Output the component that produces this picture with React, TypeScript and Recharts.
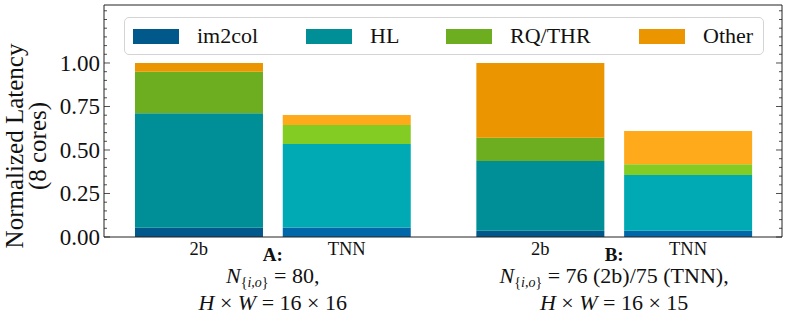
import React from 'react';
import { BarChart, Bar, XAxis, YAxis, Cell, Legend } from 'recharts';

// ---- data ----
const categories = ['2b', 'TNN', '2b', 'TNN'];
const positions = [0, 1, 2.31, 3.31];
const im2col = [0.053, 0.055, 0.036, 0.036];
const hl = [0.658, 0.479, 0.401, 0.32];
const rqthr = [0.239, 0.11, 0.134, 0.062];
const other = [0.05, 0.057, 0.429, 0.191];

const seriesKeys = ['im2col', 'hl', 'rqthr', 'other'];
const seriesNames = ['im2col', 'HL', 'RQ/THR', 'Other'];
const colors2b = ['#00588b', '#008f97', '#6cae1f', '#eb9600'];
const colorsTNN = ['#0068a8', '#00aab5', '#83cc24', '#ffaa1b'];

const groupPositions = [0.5, 2.81];
const groupTitles = ['A:', 'B:'];
const groupN = ['80,', '76 (2b)/75 (TNN),'];
const groupHW = ['16 × 16', '16 × 15'];

const yMajorTicks = [0, 0.25, 0.5, 0.75, 1.0];
const yAllTicks = [
  0, 0.05, 0.1, 0.15, 0.2, 0.25, 0.3, 0.35, 0.4, 0.45, 0.5, 0.55, 0.6, 0.65,
  0.7, 0.75, 0.8, 0.85, 0.9, 0.95, 1.0, 1.05, 1.1, 1.15, 1.2, 1.25, 1.3,
];
const yDomain = [0, 1.3333];
const xDomain = [-0.642, 3.946];

const data = categories.map((c, i) => ({
  cat: c,
  pos: positions[i],
  im2col: im2col[i],
  hl: hl[i],
  rqthr: rqthr[i],
  other: other[i],
}));

const FONT = 'Liberation Serif';
const Y_MARGIN = 4;

const isClose = (a: number, b: number) => Math.abs(a - b) < 1e-6;

const LeftTick = (props: any) => {
  const { x, y, payload } = props;
  const v = payload.value as number;
  const major = yMajorTicks.some((m) => isClose(m, v));
  const ax = x + Y_MARGIN;
  return (
    <g>
      <line x1={ax} x2={ax + (major ? 6 : 3)} y1={y} y2={y} stroke="#222" strokeWidth={0.8} />
      {major && (
        <text x={x} y={y} dy={8} textAnchor="end" style={{ fontFamily: FONT }} fontSize={23} fill="#111">
          {v.toFixed(2)}
        </text>
      )}
    </g>
  );
};

const RightTick = (props: any) => {
  const { x, y, payload } = props;
  const v = payload.value as number;
  const major = yMajorTicks.some((m) => isClose(m, v));
  const ax = x - Y_MARGIN;
  return <line x1={ax} x2={ax - (major ? 6 : 3)} y1={y} y2={y} stroke="#222" strokeWidth={0.8} />;
};

const BottomTick = (props: any) => {
  const { x, y, payload } = props;
  const v = payload.value as number;
  const bi = positions.findIndex((p) => isClose(p, v));
  if (bi >= 0) {
    return (
      <text x={x} y={y + 13} textAnchor="middle" style={{ fontFamily: FONT }} fontSize={18.5} fill="#111">
        {categories[bi]}
      </text>
    );
  }
  const gi = groupPositions.findIndex((p) => isClose(p, v));
  if (gi < 0) return null;
  return (
    <g style={{ fontFamily: FONT }} fill="#111">
      <text x={x} y={y + 19} textAnchor="middle" fontSize={19} fontWeight="bold">
        {groupTitles[gi]}
      </text>
      <text x={x} y={y + 41} textAnchor="middle" fontSize={22}>
        <tspan fontStyle="italic">N</tspan>
        <tspan fontSize={14} dy={4}>{'{'}</tspan>
        <tspan fontSize={14} fontStyle="italic">i</tspan>
        <tspan fontSize={14}>,</tspan>
        <tspan fontSize={14} fontStyle="italic">o</tspan>
        <tspan fontSize={14}>{'}'}</tspan>
        <tspan dy={-4}>{' = ' + groupN[gi]}</tspan>
      </text>
      <text x={x} y={y + 68} textAnchor="middle" fontSize={22}>
        <tspan fontStyle="italic">H</tspan>
        <tspan>{' × '}</tspan>
        <tspan fontStyle="italic">W</tspan>
        <tspan>{' = ' + groupHW[gi]}</tspan>
      </text>
    </g>
  );
};

const legendItemWidths = [173, 140, 193, 120];

const renderLegend = () => (
  <div
    style={{
      display: 'flex',
      alignItems: 'center',
      boxSizing: 'border-box',
      width: 640,
      height: 38,
      border: '1px solid #d4d4d4',
      borderRadius: 5,
      background: 'rgba(255,255,255,0.85)',
      paddingLeft: 8,
      fontFamily: FONT,
      fontSize: 22,
      color: '#111',
    }}
  >
    {seriesNames.map((n, i) => (
      <div key={n} style={{ display: 'flex', alignItems: 'center', width: legendItemWidths[i] }}>
        <span style={{ display: 'inline-block', width: 46, height: 15, background: colors2b[i], marginRight: 18 }} />
        <span style={{ lineHeight: '22px' }}>{n}</span>
      </div>
    ))}
  </div>
);

const YLabel = (props: any) => {
  const vb = props.viewBox || { x: 0, y: 5, width: 104, height: 232 };
  const cy = vb.y + vb.height / 2 + 25;
  const x1 = vb.x + 23;
  const x2 = vb.x + 46;
  return (
    <g style={{ fontFamily: FONT }} fontSize={25} fill="#111">
      <text x={x1} y={cy} textAnchor="middle" transform={`rotate(-90, ${x1}, ${cy})`}>
        Normalized Latency
      </text>
      <text x={x2} y={cy} textAnchor="middle" transform={`rotate(-90, ${x2}, ${cy})`}>
        (8 cores)
      </text>
    </g>
  );
};

export default function App() {
  return (
    <div style={{ position: 'absolute', left: 0, top: 0, width: 789, height: 322, background: '#fff', fontFamily: FONT }}>
      <BarChart width={789} height={322} data={data} margin={{ top: 4, right: 6, bottom: 0, left: 0 }}>
        <XAxis
          dataKey="pos"
          type="number"
          domain={xDomain}
          allowDataOverflow
          ticks={[...positions, ...groupPositions].sort((a, b) => a - b)}
          interval={0}
          tickLine={false}
          tickSize={0}
          tickMargin={5}
          height={85}
          axisLine={{ stroke: '#222', strokeWidth: 1 }}
          tick={<BottomTick />}
        />
        <XAxis
          xAxisId="top"
          orientation="top"
          type="number"
          dataKey="pos"
          domain={xDomain}
          allowDataOverflow
          height={1}
          ticks={positions}
          tick={false}
          tickLine={false}
          axisLine={{ stroke: '#222', strokeWidth: 1 }}
        />
        <YAxis
          type="number"
          domain={yDomain}
          allowDataOverflow
          ticks={yAllTicks}
          interval={0}
          width={104}
          tickLine={false}
          tickSize={0}
          tickMargin={Y_MARGIN}
          axisLine={{ stroke: '#222', strokeWidth: 1 }}
          tick={<LeftTick />}
          label={<YLabel />}
        />
        <YAxis
          yAxisId="right"
          orientation="right"
          type="number"
          domain={yDomain}
          allowDataOverflow
          ticks={yAllTicks}
          interval={0}
          width={1}
          tickLine={false}
          tickSize={0}
          tickMargin={Y_MARGIN}
          axisLine={{ stroke: '#222', strokeWidth: 1 }}
          tick={<RightTick />}
        />
        <Legend
          layout="vertical"
          verticalAlign="middle"
          align="center"
          content={renderLegend}
          wrapperStyle={{ position: 'absolute', left: 124, top: 17, width: 640, height: 38 }}
        />
        {seriesKeys.map((k, si) => (
          <Bar
            key={k}
            dataKey={k}
            name={seriesNames[si]}
            stackId="s"
            fill={colors2b[si]}
            barSize={128}
            isAnimationActive={false}
          >
            {data.map((d, i) => (
              <Cell key={i} fill={d.cat === '2b' ? colors2b[si] : colorsTNN[si]} />
            ))}
          </Bar>
        ))}
      </BarChart>
    </div>
  );
}
